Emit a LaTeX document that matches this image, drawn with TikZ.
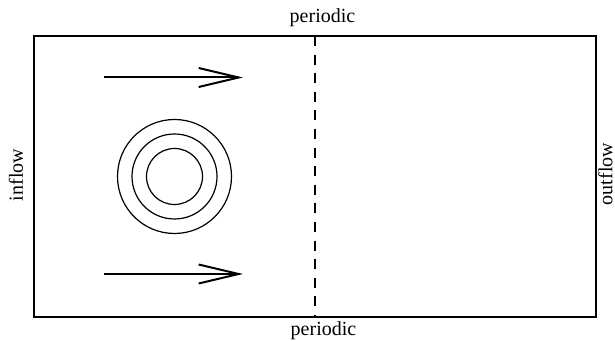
\documentclass[tikz,border=0pt]{standalone}
\usepackage{fontspec}
\setmainfont{Liberation Serif}
\usepackage{tikz}
\usetikzlibrary{arrows.meta,positioning,calc}
\tikzset{
  channel/.style={draw,line width=0.65pt,inner sep=0pt,minimum width=281pt,minimum height=140.5pt},
  flow/.style   ={line width=1pt,-{Straight Barb[length=20pt,width=9.5pt,line width=1pt]}},
  ring/.style   ={line width=0.6pt},
  cut/.style    ={line width=0.6pt,dash pattern=on 5pt off 4.3pt},
  bc/.style     ={font=\fontsize{10}{12}\selectfont,inner sep=1pt},
}
\begin{document}
\begin{tikzpicture}[x=0.5pt,y=-0.5pt]
  \useasboundingbox (0,0) rectangle (615,341);
  \node[channel] (D) at (315,176.5) {};
  \node[bc] (top) at (322.5,18) {periodic};
  \node[bc] (bot) at (323.5,331) {periodic};
  \node[bc,rotate=90] (in) at (16,175) {inflow};
  \node[bc,rotate=90,inner sep=0pt] (out) at (605.5,174) {outflow};
  % split line
  \coordinate (s1) at (315,36);
  \coordinate (s2) at (315,317);
  \draw[cut] (s1) -- (s2);
  % inflow arrows
  \coordinate (a1) at (104,77.5);
  \coordinate (a2) at (243,77.5);
  \coordinate (b1) at (104,274);
  \coordinate (b2) at (243,274);
  \draw[flow] (a1) -- (a2);
  \draw[flow] (b1) -- (b2);
  % cylinder
  \coordinate (c) at (174.5,176.5);
  \foreach \r in {57,42.5,28}
    \draw[ring] (c) circle[radius=\r];
\end{tikzpicture}
\end{document}
